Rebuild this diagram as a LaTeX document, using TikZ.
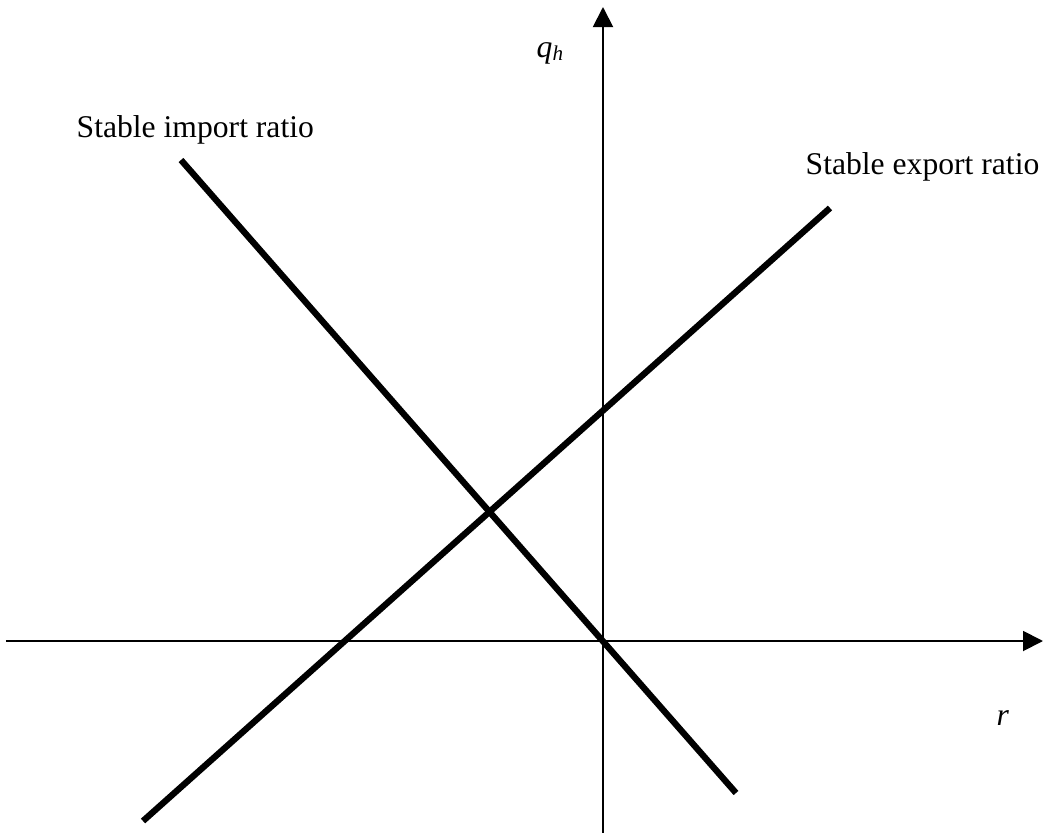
\documentclass[tikz,border=0pt]{standalone}
\usepackage{fontspec}
\setmainfont{Liberation Serif}
\usepackage{tikz}
\usetikzlibrary{arrows.meta, positioning, calc}
\definecolor{primary}{HTML}{000000}

\begin{document}
\begin{tikzpicture}[
    x=0.1mm, y=-0.1mm,
    font=\fontsize{9}{11}\selectfont,
    axis/.style={line width=0.55pt, color=primary, -{Triangle[length=2mm, width=2mm]}},
    ratioline/.style={line width=1.8pt, color=primary},
    lbl/.style={inner sep=0pt, anchor=base west}
]
    \useasboundingbox (0,0) rectangle (1043,833);

    % axes
    \coordinate (xleft) at (6,641);
    \coordinate (xright) at (1043,641);
    \coordinate (ybottom) at (603,833);
    \coordinate (ytop) at (603,7);
    \draw[axis] (xleft) -- (xright);
    \draw[axis] (ybottom) -- (ytop);

    % ratio lines
    \coordinate (imptop) at (181,160);
    \coordinate (impbot) at (736,793);
    \coordinate (expbot) at (143,821);
    \coordinate (exptop) at (830,208);
    \draw[ratioline] (imptop) -- (impbot);
    \draw[ratioline] (expbot) -- (exptop);

    % labels
    \node[lbl] (implbl) at (76,137) {Stable import ratio};
    \node[lbl] (explbl) at (805,174) {Stable export ratio};
    \node[lbl] (qlbl) at (536,57) {\textit{q}\textsubscript{\textit{h}}};
    \node[lbl] (rlbl) at (996,725) {\textit{r}};
\end{tikzpicture}
\end{document}
